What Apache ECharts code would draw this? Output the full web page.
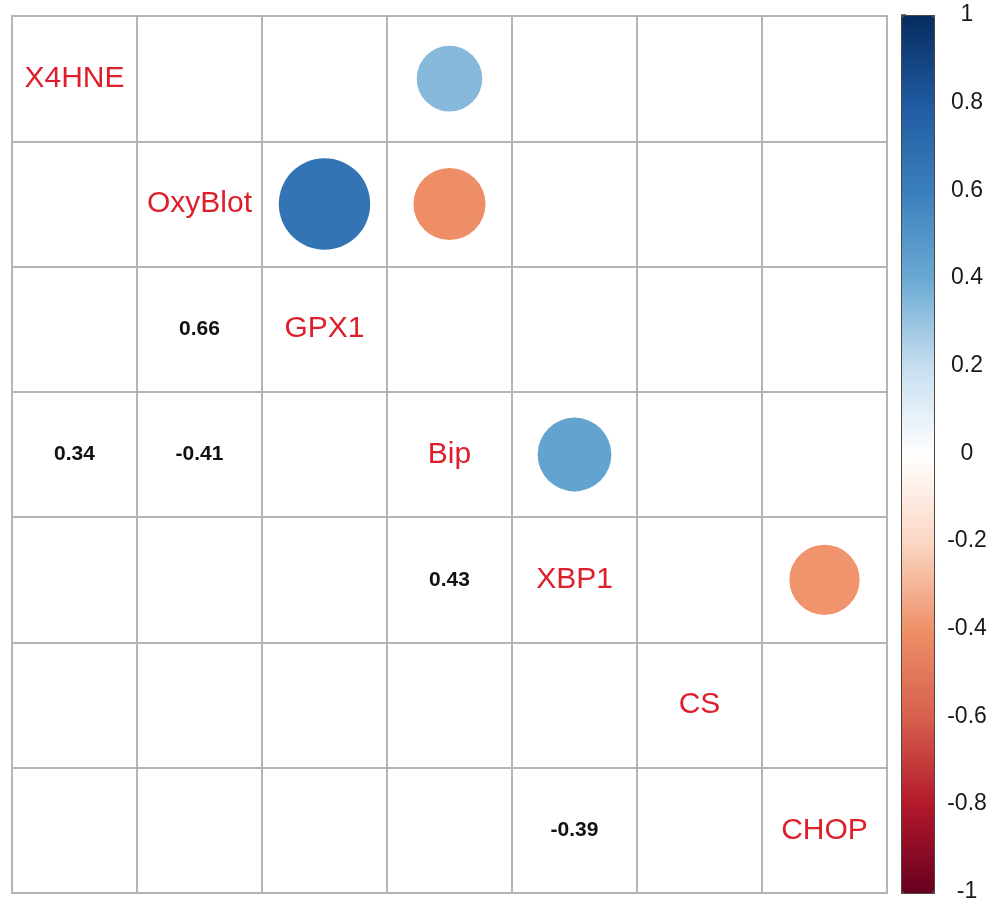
<!DOCTYPE html>
<html>
<head>
<meta charset="utf-8">
<script src="https://cdn.jsdelivr.net/npm/echarts@6/dist/echarts.min.js"></script>
<style>
  html, body { margin: 0; padding: 0; background: #fff; }
  #chart { width: 993px; height: 903px; }
</style>
</head>
<body>
<div id="chart"></div>
<script>
// Variables of the correlation matrix (row/column order)
const variables = ['X4HNE', 'OxyBlot', 'GPX1', 'Bip', 'XBP1', 'CS', 'CHOP'];

// Significant correlations only: row index, column index (upper triangle), coefficient
const pairRows = [0, 1, 1, 3, 4];
const pairCols = [3, 2, 3, 4, 6];
const pairCoefs = [0.34, 0.66, -0.41, 0.43, -0.39];

// Colour bar tick labels, from -1 to 1
const barTickValues = [-1, -0.8, -0.6, -0.4, -0.2, 0, 0.2, 0.4, 0.6, 0.8, 1];
const barTickLabels = ['-1', '-0.8', '-0.6', '-0.4', '-0.2', '0', '0.2', '0.4', '0.6', '0.8', '1'];

// Diverging red-white-blue palette, evenly spaced from -1 to 1
const palette = ['#67001f', '#b2182b', '#d6604d', '#ee9068', '#fbd7c4', '#ffffff',
                 '#c6def0', '#6aa9d3', '#3a7fbd', '#1f5aa0', '#062c5f'];

const GRID = { left: 12, top: 16, width: 875, height: 877 };
const cell = GRID.width / variables.length;
const gridColor = '#b5b5b5';
const font = "'Liberation Sans', Arial, sans-serif";

// circles in the upper triangle
const circleData = pairCoefs.map((r, i) => [variables[pairCols[i]], variables[pairRows[i]], r]);
// numbers in the lower triangle (mirrored positions)
const numberData = pairCoefs.map((r, i) => [variables[pairRows[i]], variables[pairCols[i]], r]);
// names on the diagonal
const diagData = variables.map(v => [v, v]);

const chart = echarts.init(document.getElementById('chart'), null, { renderer: 'canvas' });

const catAxis = (gridIndex) => ({
  type: 'category',
  data: variables,
  gridIndex,
  axisLabel: { show: false },
  axisTick: { show: false },
  axisLine: { show: false },
  splitLine: { show: true, lineStyle: { color: gridColor, width: 2 } }
});

chart.setOption({
  backgroundColor: '#ffffff',
  animation: false,
  grid: [
    Object.assign({ show: true, borderColor: gridColor, borderWidth: 2, backgroundColor: 'transparent' }, GRID),
    { left: 901, top: 15, width: 32, height: 877, show: false }
  ],
  xAxis: [
    catAxis(0),
    { type: 'value', gridIndex: 1, show: false, min: 0, max: 1 }
  ],
  yAxis: [
    Object.assign(catAxis(0), { inverse: true }),
    {
      type: 'value', gridIndex: 1, position: 'right',
      min: -1, max: 1, interval: 0.2,
      axisLine: { show: false },
      splitLine: { show: false },
      axisTick: { show: true, inside: false, length: 5, lineStyle: { color: '#4a4a4a', width: 1.5 } },
      axisLabel: {
        margin: 34, align: 'center', fontSize: 23, color: '#1a1a1a', fontFamily: font,
        formatter: (v) => {
          const idx = barTickValues.findIndex(t => Math.abs(t - v) < 1e-6);
          return idx >= 0 ? barTickLabels[idx] : '';
        }
      }
    }
  ],
  visualMap: {
    type: 'continuous',
    min: -1, max: 1,
    dimension: 2,
    seriesIndex: 0,
    calculable: false,
    hoverLink: false,
    orient: 'vertical',
    left: 901, top: 15,
    itemWidth: 32, itemHeight: 877,
    padding: 0,
    borderColor: '#4f463f', borderWidth: 2,
    text: null,
    inRange: { color: palette }
  },
  series: [
    {
      type: 'scatter',
      xAxisIndex: 0, yAxisIndex: 0,
      data: circleData,
      symbol: 'circle',
      symbolSize: (d) => cell * 0.9 * Math.sqrt(Math.abs(d[2])),
      itemStyle: { opacity: 1 },
      z: 3
    },
    {
      type: 'scatter',
      xAxisIndex: 0, yAxisIndex: 0,
      data: numberData,
      symbolSize: 1,
      itemStyle: { color: 'rgba(0,0,0,0)', opacity: 1 },
      label: {
        show: true, position: 'inside',
        formatter: (p) => p.value[2].toFixed(2),
        fontSize: 21, fontWeight: 'bold', color: '#111', fontFamily: font,
        textBorderWidth: 0
      },
      z: 4
    },
    {
      type: 'scatter',
      xAxisIndex: 0, yAxisIndex: 0,
      data: diagData,
      symbolSize: 1,
      itemStyle: { color: 'rgba(0,0,0,0)', opacity: 1 },
      label: {
        show: true, position: 'inside',
        formatter: (p) => p.value[0],
        fontSize: 30, color: '#dc1f2b', fontFamily: font,
        textBorderWidth: 0
      },
      z: 4
    }
  ]
});
</script>
</body>
</html>
